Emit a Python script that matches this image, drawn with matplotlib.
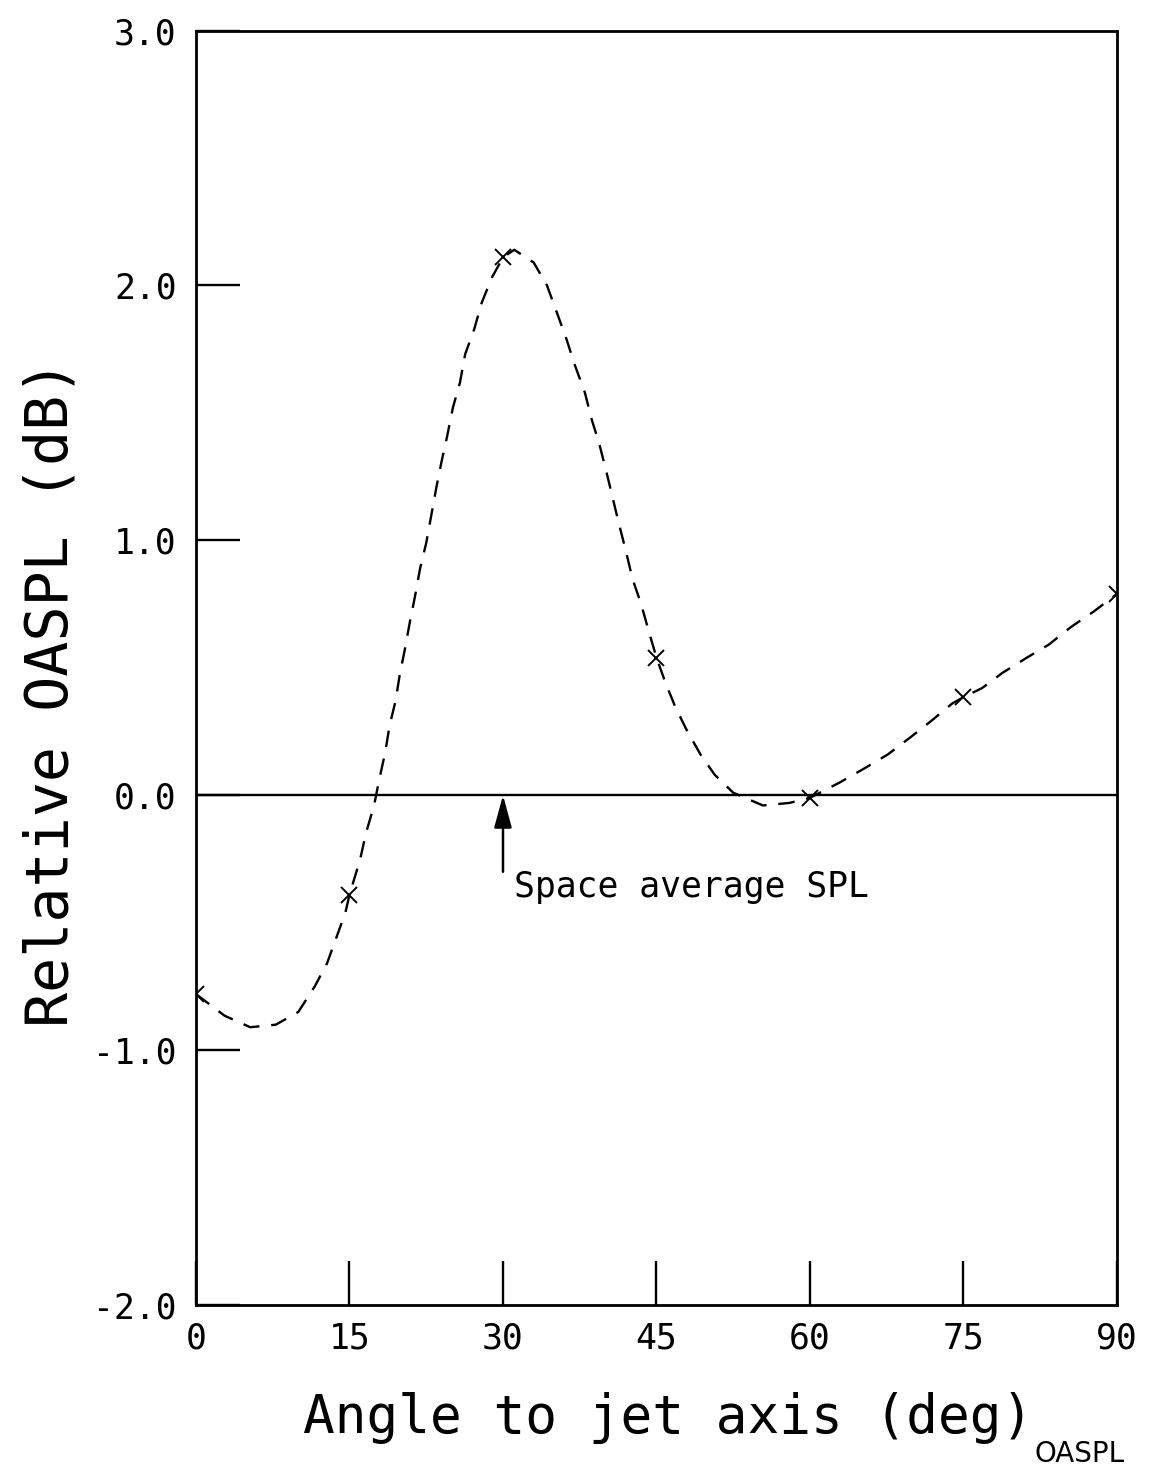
import matplotlib.pyplot as plt
import numpy as np

# measured OASPL relative to the space average, at each microphone angle
angles = [0, 15, 30, 45, 60, 75, 90]
oaspl = [-0.78, -0.39, 2.11, 0.54, -0.01, 0.385, 0.79]

# faired curve through the measurements (read point by point)
curve_angle = [0.0, 2.8, 5.3, 7.8, 10.0, 11.6, 12.8, 13.7, 14.6, 15.0, 16.05,
               16.6, 17.4, 17.9, 18.5, 18.9, 19.5, 19.9, 20.4, 20.9, 21.4,
               21.9, 22.5, 23.0, 23.5, 24.0, 24.55, 25.1, 25.8, 26.3, 27.2,
               27.9, 28.9, 30.0, 31.1, 33.0, 34.3, 35.3, 36.2, 37.0, 38.0,
               38.7, 39.4, 40.1, 40.7, 41.3, 42.0, 42.65, 43.5, 44.2, 45.0,
               45.8, 46.8, 47.9, 49.3, 50.7, 52.5, 55.4, 58.0, 60.0, 62.9,
               65.3, 67.6, 69.9, 71.8, 73.9, 75.0, 76.8, 78.8, 81.2, 83.3,
               85.5, 87.7, 90.0]
curve_oaspl = [-0.78, -0.865, -0.91, -0.90, -0.85, -0.75, -0.66, -0.56, -0.46,
               -0.39, -0.25, -0.15, -0.04, 0.06, 0.17, 0.27, 0.37, 0.47, 0.57,
               0.68, 0.78, 0.89, 0.99, 1.10, 1.21, 1.31, 1.41, 1.52, 1.62,
               1.73, 1.83, 1.93, 2.03, 2.11, 2.14, 2.09, 2.00, 1.89, 1.79,
               1.69, 1.58, 1.47, 1.38, 1.27, 1.17, 1.07, 0.96, 0.85, 0.75,
               0.65, 0.54, 0.45, 0.35, 0.26, 0.16, 0.08, 0.01, -0.04, -0.03,
               -0.01, 0.05, 0.105, 0.16, 0.23, 0.29, 0.36, 0.385, 0.42, 0.48,
               0.54, 0.59, 0.66, 0.72, 0.79]

xticks = [0, 15, 30, 45, 60, 75, 90]
yticks = [-2, -1, 0, 1, 2, 3]
ytick_labels = ['-2.0', '-1.0', '0.0', '1.0', '2.0', '3.0']

mono = 'DejaVu Sans Mono'
plt.rcParams['font.family'] = mono

fig = plt.figure(figsize=(11.57, 14.70), dpi=100)
ax = fig.add_axes([0.1694, 0.1122, 0.796, 0.867])

ax.plot(curve_angle, curve_oaspl, color='black', lw=1.7, dashes=(7, 5))
ax.plot(angles, oaspl, 'x', color='black', ms=12, mew=1.4)
ax.axhline(0, color='black', lw=1.7)

# pointer to the reference level
ax.annotate('', xy=(30, 0), xytext=(30, -0.30),
            arrowprops=dict(arrowstyle='-|>,head_length=1.1,head_width=0.3',
                            color='black', lw=1.8, shrinkA=0, shrinkB=0,
                            mutation_scale=18))
ax.text(31.1, -0.36, 'Space average SPL', ha='left', va='center', fontsize=25)

ax.set_xlim(0, 90)
ax.set_ylim(-2, 3)
ax.set_xticks(xticks)
ax.set_xticklabels([str(t) for t in xticks])
ax.set_yticks(yticks)
ax.set_yticklabels(ytick_labels)
ax.tick_params(direction='in', length=32, width=1.7, labelsize=25,
               bottom=True, left=True, top=False, right=False)
ax.tick_params(axis='x', pad=12)
ax.tick_params(axis='y', pad=14)
for s in ax.spines.values():
    s.set_linewidth(2.0)

ax.set_xlabel('Angle to jet axis (deg)', fontsize=38)
ax.xaxis.set_label_coords(0.5125, -0.068)
ax.set_ylabel('Relative OASPL (dB)', fontsize=42)
ax.yaxis.set_label_coords(-0.126, 0.48)

# start of the caption line below the plot
fig.text(1035 / 1157, 2 / 1470, 'OASPL', fontsize=20,
         family='DejaVu Sans', ha='left', va='bottom')

fig.savefig('out.png', dpi=100, facecolor='white')
